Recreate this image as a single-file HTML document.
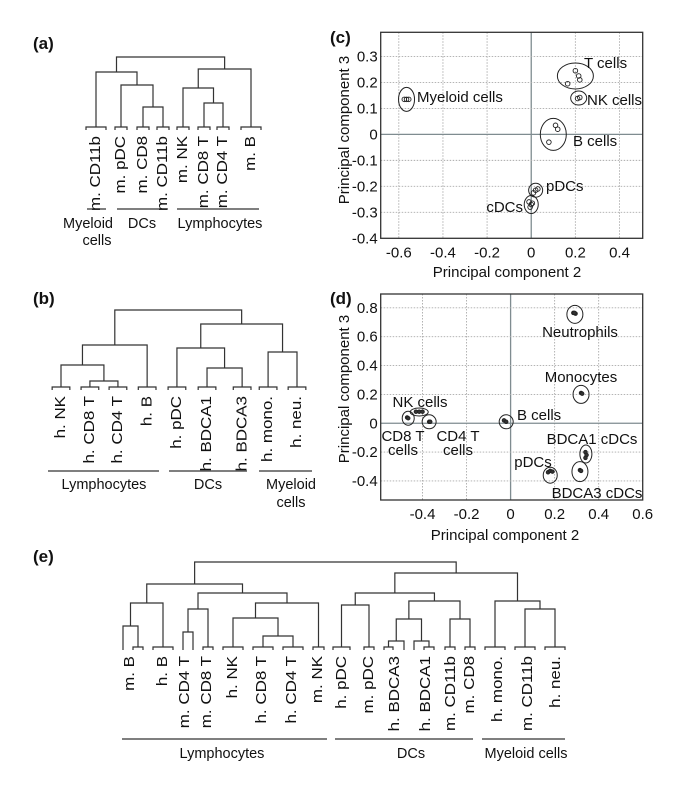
<!DOCTYPE html>
<html><head><meta charset="utf-8"><style>
html,body{margin:0;padding:0;background:#fff;}
svg{display:block;font-family:"Liberation Sans",Arial,sans-serif;}
</style></head><body>
<svg id="fig" width="685" height="790" viewBox="0 0 685 790" xmlns="http://www.w3.org/2000/svg">
<g font-weight="bold" font-size="17" fill="#111">
<text x="33" y="49">(a)</text>
<text x="33" y="304">(b)</text>
<text x="330" y="43">(c)</text>
<text x="330" y="304">(d)</text>
<text x="33" y="562">(e)</text>
</g>
<g font-size="14.5" fill="#111" stroke="none">
<line x1="87" y1="209" x2="106" y2="209" stroke="#333" stroke-width="1.2"/>
<line x1="117" y1="209" x2="168" y2="209" stroke="#333" stroke-width="1.2"/>
<line x1="177" y1="209" x2="259" y2="209" stroke="#333" stroke-width="1.2"/>
<text x="88" y="228" text-anchor="middle">Myeloid</text>
<text x="97" y="245" text-anchor="middle">cells</text>
<text x="142" y="228" text-anchor="middle">DCs</text>
<text x="220" y="228" text-anchor="middle">Lymphocytes</text>

<line x1="48" y1="471" x2="159" y2="471" stroke="#333" stroke-width="1.2"/>
<line x1="169" y1="471" x2="247" y2="471" stroke="#333" stroke-width="1.2"/>
<line x1="259" y1="471" x2="312" y2="471" stroke="#333" stroke-width="1.2"/>
<text x="104" y="489" text-anchor="middle">Lymphocytes</text>
<text x="208" y="489" text-anchor="middle">DCs</text>
<text x="291" y="489" text-anchor="middle">Myeloid</text>
<text x="291" y="507" text-anchor="middle">cells</text>

<line x1="122" y1="739" x2="327" y2="739" stroke="#333" stroke-width="1.2"/>
<line x1="335" y1="739" x2="473" y2="739" stroke="#333" stroke-width="1.2"/>
<line x1="482" y1="739" x2="565" y2="739" stroke="#333" stroke-width="1.2"/>
<text x="222" y="758" text-anchor="middle">Lymphocytes</text>
<text x="411" y="758" text-anchor="middle">DCs</text>
<text x="526" y="758" text-anchor="middle">Myeloid cells</text>
</g>
</svg>
<script>
// ---------- Dendrogram (a) ----------
const aLabels = ["m. CD11b","m. pDC","m. CD8","m. CD11b","m. NK","m. CD8 T","m. CD4 T","m. B"];
const aLeafPos = [0,1.25,2.35,3.35,4.35,5.4,6.35,7.75];
const aLeafHalf = [0.5,0.3,0.3,0.3,0.3,0.3,0.3,0.5];
const aMergeL = [2,1,0,5,4,12,10];
const aMergeR = [3,8,9,6,11,7,13];
const aMergeH = [2.3,4.5,5.8,2.7,4.2,6.1,7.3];
// ---------- Dendrogram (b) ----------
const bLabels = ["h. NK","h. CD8 T","h. CD4 T","h. B","h. pDC","h. BDCA1","h. BDCA3","h. mono.","h. neu."];
const bLeafPos = [0,0.98,1.93,2.92,3.93,4.95,6.14,7.02,8.0];
const bLeafHalf = [0.3,0.3,0.3,0.3,0.3,0.3,0.3,0.3,0.3];
const bMergeL = [1,0,10,5,4,7,13,11];
const bMergeR = [2,9,3,6,12,8,14,15];
const bMergeH = [0.9,2.5,4.5,2.2,4.2,3.8,6.6,8.0];
// ---------- Dendrogram (e) ----------
const eLeafPos = [2.3,3.8,6.3,8.3,9.3,10.8,13.3,16.3,19.3,21.85,24.15,26.9,28.85,30.4,31.4,32.9,35.0,37.0,39.5,42.5,45.5];
const eLeafHalf = [0,0.5,1.0,0,0,0.5,1.0,1.0,1.0,0.55,0.85,0.5,0.45,0,0,0.5,0.5,0.5,1.0,1.0,1.0];
const eMergeL = [0,21,3,23,7,6,26,24,22,10,12,14,31,16,33,30,19,18,36,29];
const eMergeR = [1,2,4,5,8,25,9,27,28,11,13,15,32,17,34,35,20,37,38,39];
const eMergeH = [2.4,4.7,1.8,4.1,1.4,3.2,4.7,5.7,6.6,4.5,0.9,0.9,3.1,3.1,4.9,5.7,4.1,4.9,7.7,8.8];
const eLabels = ["m. B","h. B","m. CD4 T","m. CD8 T","h. NK","h. CD8 T","h. CD4 T","m. NK","h. pDC","m. pDC","h. BDCA3","h. BDCA1","m. CD11b","m. CD8","h. mono.","m. CD11b","h. neu."];
const eLabelPos = [3.0,6.3,8.5,10.7,13.3,16.2,19.2,21.8,24.2,26.9,29.5,32.6,35.1,37.0,39.8,42.8,45.6];

// ---------- PCA (c) ----------
const cPtX = [-0.575,-0.565,-0.555, 0.2,0.215,0.22,0.165, 0.21,0.22, 0.11,0.12,0.08, 0.01,0.02,0.03, -0.01,0,-0.005,0.005];
const cPtY = [0.135,0.135,0.135, 0.245,0.225,0.21,0.195, 0.138,0.142, 0.035,0.02,-0.03, -0.225,-0.215,-0.21, -0.26,-0.27,-0.28,-0.265];
const cGroupNames = ["Myeloid cells","T cells","NK cells","B cells","pDCs","cDCs"];
const cGroupX = [-0.565,0.2,0.215,0.1,0.02,0];
const cGroupY = [0.135,0.225,0.14,0,-0.215,-0.27];
const cGroupRx = [8,18,8,13,7,7];
const cGroupRy = [12,13,7,16,7,9];
const cXTicks = [-0.6,-0.4,-0.2,0,0.2,0.4];
const cYTicks = [0.3,0.2,0.1,0,-0.1,-0.2,-0.3,-0.4];
const cXTickLabels = ["-0.6","-0.4","-0.2","0","0.2","0.4"];
const cYTickLabels = ["0.3","0.2","0.1","0","-0.1","-0.2","-0.3","-0.4"];

// ---------- PCA (d) ----------
const dPtX = [0.285,0.295,0.29, 0.32,0.325, -0.43,-0.415,-0.4, -0.47,-0.465, -0.37,-0.365, -0.03,-0.02, 0.34,0.345,0.34, 0.17,0.18,0.19, 0.315,0.32];
const dPtY = [0.765,0.76,0.765, 0.21,0.205, 0.08,0.08,0.08, 0.04,0.035, 0.01,0.01, 0.02,0.01, -0.2,-0.22,-0.24, -0.34,-0.33,-0.335, -0.325,-0.33];
const dGroupNames = ["Neutrophils","Monocytes","NK cells","CD8 T cells","CD4 T cells","B cells","BDCA1 cDCs","pDCs","BDCA3 cDCs"];
const dGroupX = [0.292,0.32,-0.415,-0.465,-0.37,-0.02,0.342,0.18,0.315];
const dGroupY = [0.755,0.2,0.078,0.035,0.01,0.01,-0.213,-0.36,-0.335];
const dGroupRx = [8,8,9,6,7,7,6,7,8];
const dGroupRy = [9,9,4,7,7,7,9,8,10];
const dXTicks = [-0.4,-0.2,0,0.2,0.4,0.6];
const dYTicks = [0.8,0.6,0.4,0.2,0,-0.2,-0.4];
const dXTickLabels = ["-0.4","-0.2","0","0.2","0.4","0.6"];
const dYTickLabels = ["0.8","0.6","0.4","0.2","0","-0.2","-0.4"];

const NS = "http://www.w3.org/2000/svg";
const svg = document.getElementById("fig");
function mk(tag, attrs, parent){
  const el = document.createElementNS(NS, tag);
  for (const k in attrs) el.setAttribute(k, attrs[k]);
  (parent||svg).appendChild(el);
  return el;
}

function dendro(name, labels, leafPos, leafHalf, mL, mR, mH, xs, ys, base, labelPos){
  const g = mk("g", {stroke:"#333","stroke-width":"1.2",fill:"none"});
  
  
  const n = leafPos.length;
  const X = [], Y = [];
  const bh = 3;
  for (let i=0;i<n;i++){
    X.push(xs(leafPos[i]));
    const hw = leafHalf[i]*(xs(1)-xs(0));
    if (hw>0){
      const top = base - bh;
      const p = mk("path", {d:`M${X[i]-hw},${base} V${top} H${X[i]+hw} V${base}`}, g);
      
      
      Y.push(top);
    } else {
      Y.push(base);
    }
  }
  for (let j=0;j<mL.length;j++){
    const a = mL[j], b = mR[j], y = ys(mH[j]);
    const p = mk("path", {d:`M${X[a]},${Y[a]} V${y} H${X[b]} V${Y[b]}`}, g);
    
    
    X.push((X[a]+X[b])/2); Y.push(y);
  }
  const lp = labelPos || leafPos;
  for (let i=0;i<labels.length;i++){
    const x = xs(lp[i]);
    const t = mk("text", {x:0,y:0,transform:`translate(${x},${base+6}) rotate(-90) scale(1.17,1)`,"text-anchor":"end","dominant-baseline":"central","font-size":"14.5",fill:"#111",stroke:"none"}, g);
    t.textContent = labels[i];
    
    
  }
}
dendro("dendro-a", aLabels, aLeafPos, aLeafHalf, aMergeL, aMergeR, aMergeH, s=>96+s*20, h=>130-h*10, 130);
dendro("dendro-b", bLabels, bLeafPos, bLeafHalf, bMergeL, bMergeR, bMergeH, s=>61+s*29.5, h=>390-h*10, 390);
dendro("dendro-e", eLabels, eLeafPos, eLeafHalf, eMergeL, eMergeR, eMergeH, s=>100+s*10, h=>650-h*10, 650, eLabelPos);

function pca(name, box, xd, yd, xTicks, yTicks, xTL, yTL, gridX, gridY, ptX, ptY, fillPts, gX, gY, gRx, gRy){
  const xs = v => box.l + (v-xd[0])/(xd[1]-xd[0])*(box.r-box.l);
  const ys = v => box.b - (v-yd[0])/(yd[1]-yd[0])*(box.b-box.t);
  const g = mk("g", {});
  
  
  gridX.forEach(v=>{
    const l = mk("line",{x1:xs(v),x2:xs(v),y1:box.t,y2:box.b,stroke:v===0?"#7f8c90":"#aaa","stroke-width":v===0?"1.3":"0.9","stroke-dasharray":v===0?"none":"1.5,1.5"},g);
    
    
  });
  gridY.forEach(v=>{
    const l = mk("line",{y1:ys(v),y2:ys(v),x1:box.l,x2:box.r,stroke:v===0?"#7f8c90":"#aaa","stroke-width":v===0?"1.3":"0.9","stroke-dasharray":v===0?"none":"1.5,1.5"},g);
    
    
  });
  const fr = mk("rect",{x:box.l,y:box.t,width:box.r-box.l,height:box.b-box.t,fill:"none",stroke:"#333","stroke-width":"1.3"},g);
  
  
  xTicks.forEach((v,i)=>{
    const t = mk("text",{x:xs(v),y:box.b+19,"text-anchor":"middle","font-size":"15",fill:"#111"},g);
    t.textContent = xTL[i];
    
    
  });
  yTicks.forEach((v,i)=>{
    const t = mk("text",{x:box.l-3,y:ys(v)+5,"text-anchor":"end","font-size":"15",fill:"#111"},g);
    t.textContent = yTL[i];
    
    
  });
  for (let i=0;i<gX.length;i++){
    const e = mk("ellipse",{cx:xs(gX[i]),cy:ys(gY[i]),rx:gRx[i],ry:gRy[i],fill:"none",stroke:"#222","stroke-width":"1"},g);
    
    
  }
  for (let i=0;i<ptX.length;i++){
    const c = mk("circle",{cx:xs(ptX[i]),cy:ys(ptY[i]),r:fillPts?1.8:2.3,fill:fillPts?"#333":"none",stroke:"#222","stroke-width":"0.9"},g);
    
    
  }
  return g;
}
function lab(g, txt, x, y, anchor){
  const t = mk("text",{x:x,y:y,"text-anchor":anchor||"start","font-size":"15",fill:"#111"},g);
  t.textContent = txt;
  
  
}
const gc = pca("pca-plot-c",{l:380.7,r:642.7,t:32.3,b:238.3},[-0.682,0.505],[-0.4,0.393],
  cXTicks,cYTicks,cXTickLabels,cYTickLabels,[-0.6,-0.4,-0.2,0,0.2,0.4],[0.3,0.2,0.1,0,-0.1,-0.2,-0.3],
  cPtX,cPtY,false,cGroupX,cGroupY,cGroupRx,cGroupRy);
lab(gc,cGroupNames[0],417,102); lab(gc,cGroupNames[1],584,68); lab(gc,cGroupNames[2],587,105);
lab(gc,cGroupNames[3],573,146); lab(gc,cGroupNames[4],546,191); lab(gc,cGroupNames[5],523,212,"end");
const gd = pca("pca-plot-d",{l:380.7,r:642.7,t:294,b:500},[-0.59,0.6],[-0.532,0.896],
  dXTicks,dYTicks,dXTickLabels,dYTickLabels,[-0.4,-0.2,0,0.2,0.4],[0.8,0.6,0.4,0.2,0,-0.2,-0.4],
  dPtX,dPtY,true,dGroupX,dGroupY,dGroupRx,dGroupRy);
lab(gd,"Neutrophils",580,337,"middle"); lab(gd,"Monocytes",581,382,"middle"); lab(gd,"NK cells",420,407,"middle");
lab(gd,"CD8 T",403,441,"middle"); lab(gd,"cells",403,455,"middle"); lab(gd,"CD4 T",458,441,"middle"); lab(gd,"cells",458,455,"middle");
lab(gd,"B cells",517,420); lab(gd,"BDCA1 cDCs",592,444,"middle"); lab(gd,"pDCs",533,467,"middle"); lab(gd,"BDCA3 cDCs",597,498,"middle");

[["x-axis-title-c",507,277,0],["y-axis-title-c",349,130,-90],["x-axis-title-d",505,540,0],["y-axis-title-d",349,389,-90]].forEach(a=>{
  const t = mk("text",{x:0,y:0,transform:`translate(${a[1]},${a[2]}) rotate(${a[3]})`,"text-anchor":"middle","font-size":"15",fill:"#111"});
  t.textContent = a[3]===0 ? "Principal component 2" : "Principal component 3";
  
  
});
</script>
</body></html>
